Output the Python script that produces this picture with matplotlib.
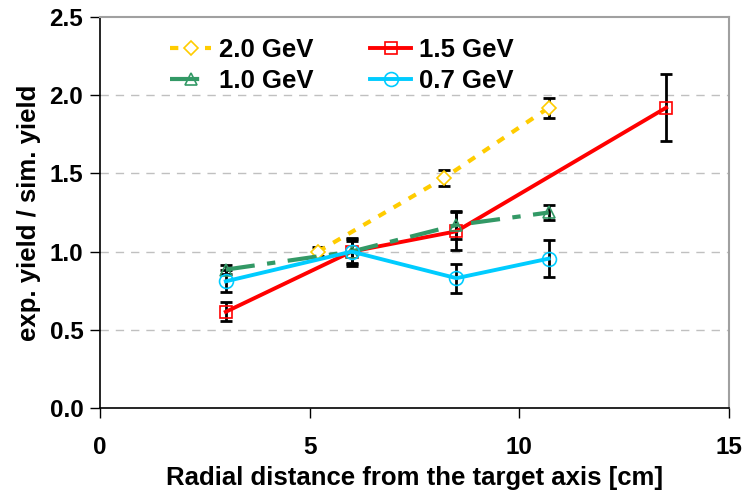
import matplotlib
matplotlib.use("Agg")
import matplotlib.pyplot as plt

plt.rcParams['font.family'] = ['Liberation Sans', 'DejaVu Sans']
plt.rcParams['font.weight'] = 'bold'

# Ratio of experimental to simulated yield vs. radial distance
x_20 = [5.2, 8.2, 10.7]
y_20 = [1.00, 1.47, 1.92]
e_20 = [0.03, 0.05, 0.065]

x_15 = [3.0, 6.0, 8.5, 13.5]
y_15 = [0.615, 1.00, 1.13, 1.92]
e_15 = [0.06, 0.09, 0.12, 0.215]

x_10 = [3.0, 6.0, 8.5, 10.7]
y_10 = [0.885, 1.00, 1.17, 1.25]
e_10 = [0.03, 0.07, 0.09, 0.05]

x_07 = [3.0, 6.0, 8.5, 10.7]
y_07 = [0.81, 1.00, 0.83, 0.955]
e_07 = [0.07, 0.08, 0.093, 0.12]

labels = ["2.0 GeV", "1.5 GeV", "1.0 GeV", "0.7 GeV"]

fig = plt.figure(figsize=(7.46, 4.94), dpi=100)
ax = fig.add_axes([100/746, 1-408/494, 629/746, 391/494])

ax.set_xlim(0, 15)
ax.set_ylim(0, 2.5)
ax.set_xticks([0, 5, 10, 15])
ax.set_yticks([0, 0.5, 1.0, 1.5, 2.0, 2.5])
ax.set_yticklabels(["0.0", "0.5", "1.0", "1.5", "2.0", "2.5"])

for yv in [0.5, 1.0, 1.5, 2.0]:
    ax.axhline(yv, color="#c0c0c0", lw=1.0, dashes=(6, 5), zorder=0)

err_kw = dict(fmt="none", ecolor="black", elinewidth=2, capsize=4, capthick=2, zorder=2)

h20, = ax.plot(x_20, y_20, color="#FFCC00", lw=3, dashes=(2, 2.2),
               marker="D", ms=7, mfc="white", mec="#FFCC00", mew=1.2, zorder=3)
ax.errorbar(x_20, y_20, yerr=e_20, **err_kw)

h15, = ax.plot(x_15, y_15, color="#FF0000", lw=2.8,
               marker="s", ms=9, mfc="none", mec="#FF0000", mew=1.2, zorder=3)
ax.errorbar(x_15, y_15, yerr=e_15, **err_kw)

h10, = ax.plot(x_10, y_10, color="#339966", lw=3, dashes=(7, 3, 2, 3),
               marker="^", ms=9, mfc="none", mec="#339966", mew=1.2, zorder=3)
ax.errorbar(x_10, y_10, yerr=e_10, **err_kw)

h07, = ax.plot(x_07, y_07, color="#00CCFF", lw=2.8,
               marker="o", ms=10, mfc="none", mec="#00CCFF", mew=1.2, zorder=3)
ax.errorbar(x_07, y_07, yerr=e_07, **err_kw)

# two columns, filled column-wise: (2.0, 1.0) then (1.5, 0.7)
leg = ax.legend([h20, h10, h15, h07], [labels[0], labels[2], labels[1], labels[3]],
                ncol=2, loc="upper left", bbox_to_anchor=(0.075, 1.005), frameon=False,
                prop=dict(size=18.5, weight="bold"), handlelength=1.6,
                columnspacing=2.2, labelspacing=0.25, handletextpad=0.3)

for side in ["top", "right"]:
    ax.spines[side].set_color("#a0a0a0")
    ax.spines[side].set_linewidth(1.5)
for side in ["left", "bottom"]:
    ax.spines[side].set_color("black")
    ax.spines[side].set_linewidth(1.2)

ax.tick_params(axis="both", direction="out", length=7, width=1, labelsize=17.5)
ax.tick_params(axis="y", pad=5)
ax.tick_params(axis="x", pad=13)
for t in ax.get_xticklabels() + ax.get_yticklabels():
    t.set_fontweight("bold")

ax.set_xlabel("Radial distance from the target axis [cm]", fontsize=18.5, fontweight="bold")
ax.set_ylabel("exp. yield / sim. yield", fontsize=18.5, fontweight="bold")
ax.xaxis.set_label_coords(0.5, -(478 - 408) / 391, transform=ax.transAxes)
ax.xaxis.label.set_va("center")
ax.yaxis.set_label_coords(-(100 - 29) / 629, 0.5, transform=ax.transAxes)
ax.yaxis.label.set_va("center")

fig.savefig("out.png", dpi=100)
